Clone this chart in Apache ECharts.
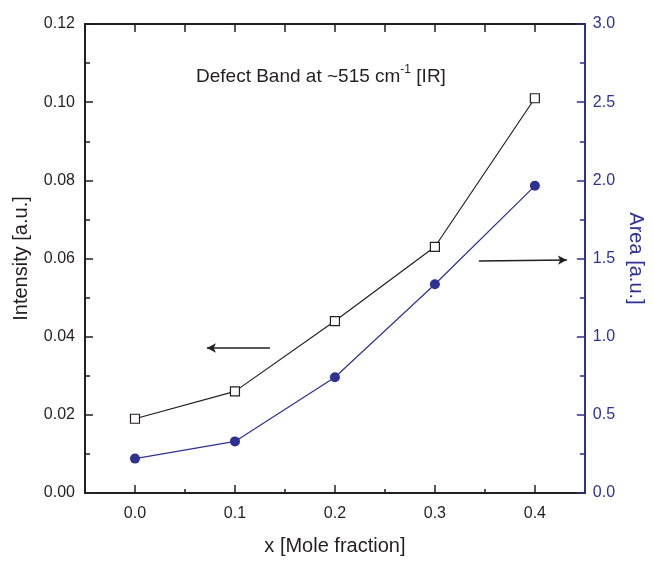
<!DOCTYPE html>
<html>
<head>
<meta charset="utf-8">
<script src="https://cdn.jsdelivr.net/npm/echarts@6/dist/echarts.min.js"></script>
<style>html,body{margin:0;padding:0;background:#fff}#c{width:654px;height:561px}</style>
</head>
<body>
<div id="c"></div>
<script>
const xValues = [0.0, 0.1, 0.2, 0.3, 0.4];
const intensity = [0.019, 0.026, 0.044, 0.063, 0.101];
const area = [0.22, 0.33, 0.74, 1.335, 1.965];
const xMajorTicks = [0.0, 0.1, 0.2, 0.3, 0.4];
const xMinorTicks = [0.05, 0.15, 0.25, 0.35];
const xTopTicks = [0.0, 0.05, 0.1, 0.15, 0.2, 0.25, 0.3, 0.35, 0.4];
const leftArrow = [[0.135, 0.0371], [0.072, 0.0371]];
const rightArrow = [[0.344, 1.484], [0.432, 1.49]];

const FONT = 'Liberation Sans, Arial, sans-serif';
const BLUE = '#2E3192';
const INK = '#231f20';
const chart = echarts.init(document.getElementById('c'), null, {renderer: 'canvas'});
const baseX = {
  type: 'value', min: -0.05, max: 0.45, splitLine: {show: false}
};
chart.setOption({
  animation: false,
  backgroundColor: '#fff',
  textStyle: {fontFamily: FONT},
  title: {
    text: '{a|Defect Band at ~515 cm}{s|-1}{a| [IR]}',
    left: 191, top: 59,
    textStyle: {
      fontWeight: 'normal',
      rich: {
        a: {fontFamily: FONT, fontSize: 19, fontWeight: 'normal', color: INK, verticalAlign: 'bottom'},
        s: {fontFamily: FONT, fontSize: 12, fontWeight: 'normal', color: INK, verticalAlign: 'top', padding: [0, 0, 10, 0]}
      }
    }
  },
  grid: {left: 85, right: 62, top: 24, bottom: 62, containLabel: false},
  xAxis: [
    Object.assign({}, baseX, {
      position: 'bottom',
      name: 'x [Mole fraction]', nameLocation: 'middle', nameGap: 43,
      nameTextStyle: {fontFamily: FONT, fontSize: 20, color: INK},
      axisLine: {onZero: false, lineStyle: {color: INK, width: 2}},
      axisTick: {inside: true, length: 8, customValues: xMajorTicks, lineStyle: {color: INK, width: 1.5}},
      axisLabel: {customValues: xMajorTicks, formatter: v => v.toFixed(1), fontSize: 16, color: INK, margin: 13, fontFamily: FONT}
    }),
    Object.assign({}, baseX, {
      position: 'bottom',
      axisLine: {show: false, onZero: false},
      axisTick: {inside: true, length: 4, customValues: xMinorTicks, lineStyle: {color: INK, width: 1.5}},
      axisLabel: {show: false}
    }),
    Object.assign({}, baseX, {
      position: 'top',
      axisLine: {onZero: false, lineStyle: {color: INK, width: 2}},
      axisTick: {inside: true, length: 8, customValues: xTopTicks, lineStyle: {color: INK, width: 1.5}},
      axisLabel: {show: false}
    })
  ],
  yAxis: [
    {
      type: 'value', min: 0, max: 0.12, interval: 0.02, position: 'left',
      name: 'Intensity [a.u.]', nameLocation: 'middle', nameGap: 54, nameRotate: 90,
      nameTextStyle: {fontFamily: FONT, fontSize: 20, color: INK},
      axisLine: {show: true, onZero: false, lineStyle: {color: INK, width: 2}},
      axisTick: {inside: true, length: 8, lineStyle: {color: INK, width: 1.5}},
      minorTick: {show: true, splitNumber: 2, length: 5, lineStyle: {color: INK, width: 1.5}},
      axisLabel: {formatter: v => v.toFixed(2), fontSize: 16, color: INK, margin: 10, fontFamily: FONT},
      splitLine: {show: false}
    },
    {
      type: 'value', min: 0, max: 3, interval: 0.5, position: 'right',
      name: 'Area [a.u.]', nameLocation: 'middle', nameGap: 38, nameRotate: -90,
      nameTextStyle: {fontFamily: FONT, fontSize: 20, color: BLUE},
      axisLine: {show: true, onZero: false, lineStyle: {color: BLUE, width: 2}},
      axisTick: {inside: true, length: 8, lineStyle: {color: BLUE, width: 1.5}},
      minorTick: {show: true, splitNumber: 2, length: 5, lineStyle: {color: BLUE, width: 1.5}},
      axisLabel: {formatter: v => v.toFixed(1), fontSize: 16, color: BLUE, margin: 8, fontFamily: FONT},
      splitLine: {show: false}
    }
  ],
  series: [
    {
      type: 'line', xAxisIndex: 0, yAxisIndex: 0,
      data: xValues.map((x, i) => [x, intensity[i]]),
      symbol: 'rect', symbolSize: 9,
      itemStyle: {color: '#fff', borderColor: INK, borderWidth: 1.2},
      lineStyle: {color: INK, width: 1.2},
      z: 3,
      markLine: {
        silent: true, symbol: ['none', 'arrow'], symbolSize: [7, 9],
        label: {show: false},
        lineStyle: {color: INK, width: 1.5, type: 'solid'},
        data: [[{coord: leftArrow[0]}, {coord: leftArrow[1]}]]
      }
    },
    {
      type: 'line', xAxisIndex: 0, yAxisIndex: 1,
      data: xValues.map((x, i) => [x, area[i]]),
      symbol: 'circle', symbolSize: 10,
      itemStyle: {color: BLUE},
      lineStyle: {color: BLUE, width: 1.2},
      z: 2,
      markLine: {
        silent: true, symbol: ['none', 'arrow'], symbolSize: [7, 9],
        label: {show: false},
        lineStyle: {color: INK, width: 1.5, type: 'solid'},
        data: [[{coord: rightArrow[0]}, {coord: rightArrow[1]}]]
      }
    }
  ]
});
</script>
</body>
</html>
